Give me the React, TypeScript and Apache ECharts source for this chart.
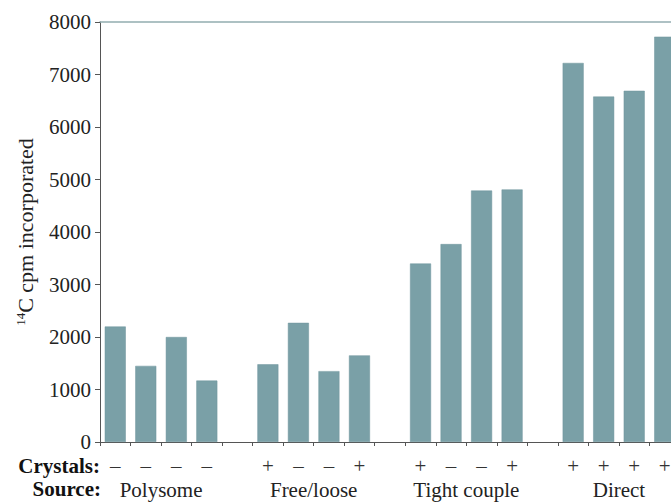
import React, { useEffect, useRef } from "react";
import * as echarts from "echarts";

const categories = [
  "p1", "p2", "p3", "p4", "g1",
  "f1", "f2", "f3", "f4", "g2",
  "t1", "t2", "t3", "t4", "g3",
  "d1", "d2", "d3", "d4",
];
const crystals = [
  "–", "–", "–", "–", "",
  "+", "–", "–", "+", "",
  "+", "–", "–", "+", "",
  "+", "+", "+", "+",
];
const values: (number | null)[] = [
  2200, 1450, 2000, 1170, null,
  1480, 2270, 1350, 1650, null,
  3400, 3770, 4790, 4810, null,
  7220, 6580, 6690, 7720,
];
// group labels on category boundaries (20 boundary points)
const sourceBoundaries = [
  "", "", "Polysome", "", "", "", "", "Free/loose", "", "",
  "", "", "Tight couple", "", "", "", "", "Direct", "", "",
];
const yTicks = { min: 0, max: 8000, interval: 1000 };

const FONT = "'Liberation Serif', 'Times New Roman', serif";

export default function App() {
  const ref = useRef<HTMLDivElement>(null);
  useEffect(() => {
    if (!ref.current) return;
    const chart = echarts.init(ref.current, undefined, { renderer: "svg" });
    chart.setOption({
      animation: false,
      backgroundColor: "#ffffff",
      grid: {
        left: 100,
        top: 22,
        bottom: 60,
        right: -9,
        containLabel: false,
        outerBoundsMode: "none",
      },
      xAxis: [
        {
          type: "category",
          data: categories,
          position: "bottom",
          axisLine: { show: true, lineStyle: { color: "#555", width: 1 } },
          axisTick: { show: true, length: 4, lineStyle: { color: "#555" } },
          axisLabel: {
            interval: 0,
            margin: 13,
            fontFamily: FONT,
            fontSize: 21,
            color: "#333",
            formatter: (_v: string, i: number) => crystals[i],
          },
          splitLine: { show: false },
        },
        {
          type: "category",
          data: sourceBoundaries,
          boundaryGap: false,
          position: "bottom",
          axisLine: { show: false },
          axisTick: { show: false },
          axisLabel: {
            interval: 0,
            margin: 37,
            fontFamily: FONT,
            fontSize: 21,
            color: "#222",
          },
          splitLine: { show: false },
        },
        {
          type: "category",
          data: categories,
          position: "top",
          axisLine: { show: true, lineStyle: { color: "#93adb0", width: 1.5 } },
          axisTick: { show: false },
          axisLabel: { show: false },
          splitLine: { show: false },
        },
      ],
      yAxis: {
        type: "value",
        min: yTicks.min,
        max: yTicks.max,
        interval: yTicks.interval,
        axisLine: { show: true, lineStyle: { color: "#555", width: 1 } },
        axisTick: { show: true, length: 5, lineStyle: { color: "#555" } },
        axisLabel: {
          margin: 9,
          fontFamily: FONT,
          fontSize: 21,
          color: "#222",
          formatter: (v: number) => String(v),
        },
        splitLine: { show: false },
        name: "{sup|14}C cpm incorporated",
        nameLocation: "middle",
        nameGap: 64,
        nameTextStyle: {
          fontFamily: FONT,
          fontSize: 22,
          color: "#222",
          rich: {
            sup: { fontFamily: FONT, fontSize: 13, verticalAlign: "top", color: "#222" },
          },
        },
      },
      graphic: [
        {
          type: "text",
          right: 671 - 100,
          top: 455,
          style: {
            text: "Crystals:",
            fontFamily: FONT,
            fontSize: 21,
            fontWeight: "bold",
            fill: "#111",
          },
        },
        {
          type: "text",
          right: 671 - 101,
          top: 478,
          style: {
            text: "Source:",
            fontFamily: FONT,
            fontSize: 21,
            fontWeight: "bold",
            fill: "#111",
          },
        },
      ],
      series: [
        {
          type: "bar",
          xAxisIndex: 0,
          data: values,
          barWidth: 21,
          itemStyle: { color: "#7aa0a7", borderColor: "#6e959c", borderWidth: 0.5 },
        },
      ],
    });
    return () => chart.dispose();
  }, []);
  return (
    <div
      ref={ref}
      style={{ position: "fixed", left: 0, top: 0, width: 671, height: 502 }}
    />
  );
}
